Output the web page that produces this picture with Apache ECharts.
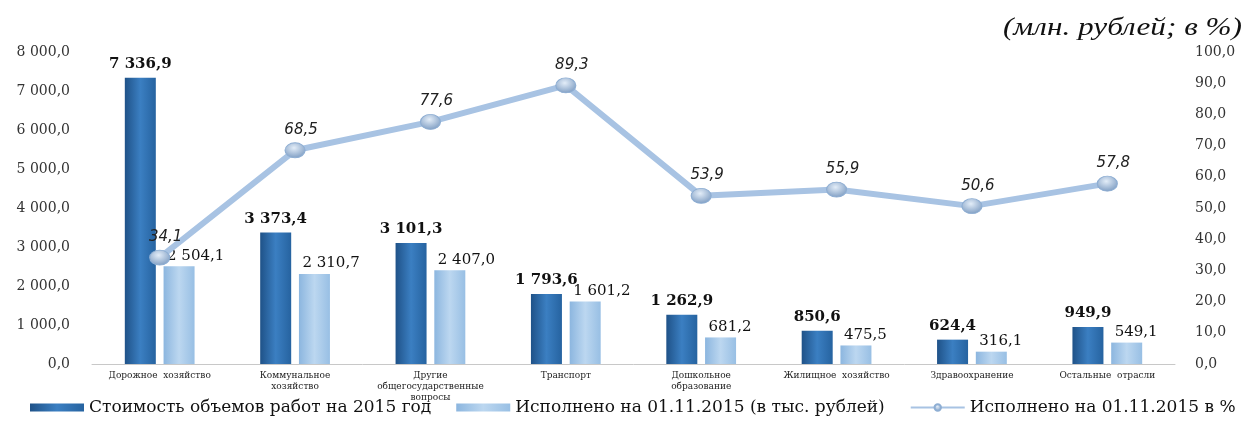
<!DOCTYPE html>
<html><head><meta charset="utf-8">
<script src="https://cdn.jsdelivr.net/npm/echarts@6/dist/echarts.min.js"></script>
<style>html,body{margin:0;padding:0;background:#fff}#c{width:1246px;height:421px}</style>
</head><body><div id="c"></div>
<script>
const categories = ['Дорожное  хозяйство','Коммунальное\nхозяйство','Другие\nобщегосударственные\nвопросы','Транспорт','Дошкольное\nобразование','Жилищное  хозяйство','Здравоохранение','Остальные  отрасли'];
const planned = [7336.9, 3373.4, 3101.3, 1793.6, 1262.9, 850.6, 624.4, 949.9];
const executed = [2504.1, 2310.7, 2407.0, 1601.2, 681.2, 475.5, 316.1, 549.1];
const percent = [34.1, 68.5, 77.6, 89.3, 53.9, 55.9, 50.6, 57.8];
const seriesNames = ['Стоимость объемов работ на 2015 год','Исполнено на 01.11.2015 (в тыс. рублей)','Исполнено на 01.11.2015 в %'];
const unitText = '(млн. рублей; в %)';

function fmt(v){
  const s = Number(v).toFixed(1).split('.');
  const int = s[0].replace(/\B(?=(\d{3})+(?!\d))/g,' ');
  return int + ',' + s[1];
}
const serif = '"DejaVu Serif", serif';
const chart = echarts.init(document.getElementById('c'));
chart.setOption({
  animation:false,
  textStyle:{fontFamily:serif},
  graphic:[{type:'text',right:4,top:16,scaleX:1.25,style:{text:unitText,font:'italic 25px "Liberation Serif", serif',fill:'#111'}}],
  grid:{left:92,right:71,top:52,bottom:57},
  legend:{
    left:25,bottom:0,itemWidth:54,itemHeight:8,itemGap:25,
    textStyle:{fontFamily:serif,fontSize:17,color:'#111'},
    data:[{name:seriesNames[0],icon:'rect'},{name:seriesNames[1],icon:'rect'},{name:seriesNames[2]}]
  },
  xAxis:{type:'category',data:categories,
    axisLine:{lineStyle:{color:'#c8c8c8',width:1}},axisTick:{show:false},
    axisLabel:{interval:0,fontSize:9,lineHeight:11,color:'#222',fontFamily:serif,margin:6}},
  yAxis:[
    {type:'value',min:0,max:8000,interval:1000,splitLine:{show:false},axisLine:{show:false},axisTick:{show:false},
     axisLabel:{formatter:fmt,fontSize:14,color:'#333',fontFamily:serif,margin:22}},
    {type:'value',min:0,max:100,interval:10,splitLine:{show:false},axisLine:{show:false},axisTick:{show:false},
     axisLabel:{formatter:fmt,fontSize:14,color:'#333',fontFamily:serif,margin:20}}
  ],
  series:[
    {name:seriesNames[0],type:'bar',data:planned,barWidth:31,barGap:'25%',
     itemStyle:{color:new echarts.graphic.LinearGradient(0,0,1,0,[{offset:0,color:'#1f5288'},{offset:0.5,color:'#3b7fc2'},{offset:1,color:'#2663a0'}])},
     label:{show:true,position:'top',formatter:p=>fmt(p.value),fontWeight:'bold',fontSize:15,color:'#111',fontFamily:serif,distance:6}},
    {name:seriesNames[1],type:'bar',data:executed,barWidth:31,
     itemStyle:{color:new echarts.graphic.LinearGradient(0,0,1,0,[{offset:0,color:'#8cb6df'},{offset:0.5,color:'#bcd7f0'},{offset:1,color:'#98bfe4'}])},
     label:{show:true,position:'top',align:'left',offset:[-12,0],formatter:p=>fmt(p.value),fontSize:15,color:'#111',fontFamily:serif,distance:3}},
    {name:seriesNames[2],type:'line',yAxisIndex:1,data:percent,z:5,
     symbol:'circle',symbolSize:[20,15],
     lineStyle:{color:'#a8c3e3',width:6},
     itemStyle:{color:new echarts.graphic.RadialGradient(0.45,0.35,0.7,[{offset:0,color:'#e3edf8'},{offset:1,color:'#7898bf'}]),borderColor:'#8eaed3',borderWidth:1},
     label:{show:true,position:'top',offset:[6,0],formatter:p=>fmt(p.value),fontStyle:'italic',fontSize:15,color:'#222',fontFamily:'"DejaVu Sans", sans-serif',distance:5}}
  ]
});
</script></body></html>
